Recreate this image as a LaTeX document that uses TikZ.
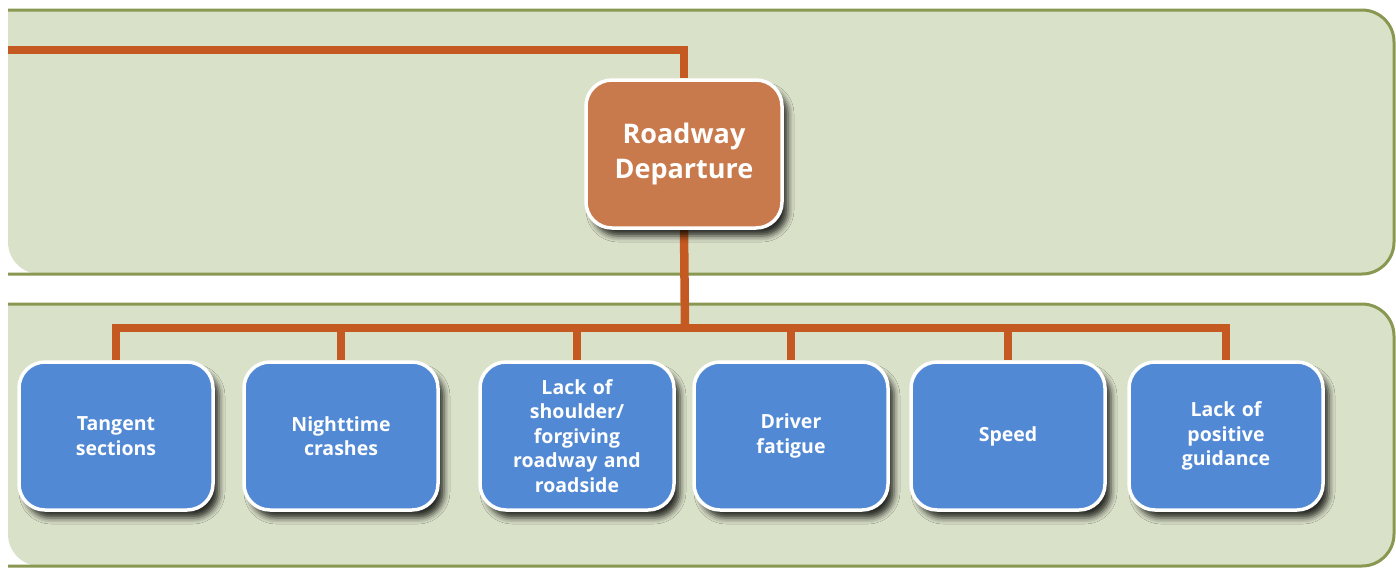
\documentclass[tikz,border=0pt]{standalone}
\usepackage{fontspec}
\setmainfont{Open Sans}
\usetikzlibrary{shadows.blur}
\definecolor{bandfill}{RGB}{218,225,201}
\definecolor{bandedge}{RGB}{136,152,80}
\definecolor{linkorange}{RGB}{196,90,34}
\definecolor{rootfill}{RGB}{201,122,76}
\definecolor{leaffill}{RGB}{82,137,212}
\pgfdeclarelayer{panel}
\pgfdeclarelayer{links}
\pgfsetlayers{panel,links,main}
\tikzset{
  x=1pt, y=-1pt,
  bandarea/.style={fill=bandfill},
  bandline/.style={draw=bandedge, line width=3pt},
  link/.style={draw=linkorange, line width=8.5pt, line join=miter},
  boxbase/.style={rounded corners=26pt, draw=white, line width=3.5pt,
    text=white, align=center, inner sep=2pt,
    blur shadow={shadow xshift=6pt, shadow yshift=-8pt,
      shadow blur radius=6pt, shadow opacity=80}},
  rootbox/.style={boxbase, fill=rootfill, minimum width=196pt, minimum height=148pt,
    font=\fontsize{27}{35}\selectfont\bfseries},
  leafbox/.style={boxbase, fill=leaffill, minimum width=194pt, minimum height=148pt,
    text width=175pt, font=\fontsize{19.5}{24.5}\selectfont\bfseries},
}
\begin{document}
\begin{tikzpicture}
\useasboundingbox (0,0) rectangle (1396,568);

% nodes
\node[rootbox] (root) at (684,154) {Roadway\\Departure};

\node[leafbox] (t1) at (116,436) {Tangent\\sections};
\node[leafbox] (t2) at (341,436) {Nighttime\\crashes};
\node[leafbox] (t3) at (577,436) {Lack of\\shoulder/\\forgiving\\roadway and\\roadside};
\node[leafbox] (t4) at (791,436) {Driver\\fatigue};
\node[leafbox] (t5) at (1008,436) {Speed};
\node[leafbox] (t6) at (1226,436) {Lack of\\positive\\guidance};

% upper and lower panels, open on the left side
\begin{pgfonlayer}{panel}
\fill[white] (0,0) rectangle (1396,568);
\fill[bandarea, rounded corners=32pt] (8,10) -- (1394,10) -- (1394,274) -- (8,274) [sharp corners] -- cycle;
\draw[bandline, rounded corners=32pt] (8,10) -- (1394,10) -- (1394,274) -- (8,274);
\fill[bandarea, rounded corners=32pt] (8,304) -- (1394,304) -- (1394,566) -- (8,566) [sharp corners] -- cycle;
\draw[bandline, rounded corners=32pt] (8,304) -- (1394,304) -- (1394,566) -- (8,566);
\end{pgfonlayer}

% connectors
\coordinate (inlet) at (8,50);
\coordinate (bus) at (685,328);
\begin{pgfonlayer}{links}
\draw[link] (inlet) -| (root.north);
\draw[link] (root.south) -- (bus);
\draw[link] (t1.north) |- (bus);
\draw[link] (t6.north) |- (bus);
\foreach \n in {t2,t3,t4,t5}
  \draw[link] (\n.north) -- (\n.north |- bus);
\end{pgfonlayer}
\end{tikzpicture}
\end{document}
